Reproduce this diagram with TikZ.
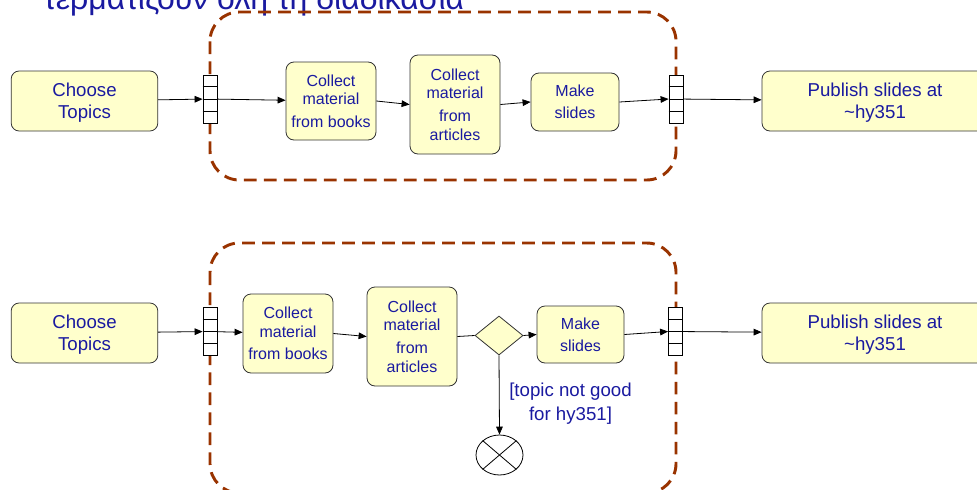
\documentclass[tikz,border=0pt]{standalone}
\usepackage{fontspec}
\setmainfont{Liberation Sans}
\usepackage{xcolor}
\usepackage{tikz}
\usetikzlibrary{arrows.meta,positioning,shapes.geometric,calc}
\definecolor{umlblue}{RGB}{26,26,160}
\definecolor{umlfill}{RGB}{255,255,204}
\definecolor{regionred}{RGB}{153,51,0}
\tikzset{
  act/.style={draw=black!80,fill=umlfill,rounded corners=6pt,align=center,text=umlblue,inner sep=0pt,line width=0.6pt,text depth=0pt},
  big/.style={font=\fontsize{14}{16.5}\selectfont},
  small/.style={font=\fontsize{12}{14}\selectfont},
  pins/.style={draw,fill=white,minimum width=10.5pt,minimum height=36pt,inner sep=0pt,line width=0.6pt},
  arr/.style={-{Triangle[length=6pt,width=5pt]},line width=0.6pt},
  region/.style={draw=regionred,line width=2.2pt,dash pattern=on 9.5pt off 5.5pt,rounded corners=22pt},
}

\begin{document}
\begin{tikzpicture}[x=0.75pt,y=-0.75pt]
\useasboundingbox (0,0) rectangle (977,489);
\clip (0,0) rectangle (977,489);
\node[anchor=base west,inner sep=0pt,text=umlblue,font=\fontsize{24}{28}\selectfont] (title) at (43,9.5) {τερματίζουν όλη τη διαδικασία};
% interruptible regions
\draw[region] (210,12) rectangle (676,180);
\draw[region] (210,243) rectangle (676,493);
% first activity
\node[act,big,minimum width=110pt,minimum height=45pt] (choose1) at (84.5,101) {Choose\\Topics};
\node[pins] (pinA) at (210,99) {};
\node[act,small,minimum width=67.5pt,minimum height=58.5pt] (books1) at (331,101) {Collect\\material\\[3pt]from books};
\node[act,small,minimum width=67.5pt,minimum height=74.25pt] (articles1) at (455,104.5) {Collect\\material\\[3pt]from\\articles};
\node[act,font=\fontsize{12}{16.5}\selectfont,minimum width=66pt,minimum height=43.5pt] (make1) at (575,102) {Make\\slides};
\node[pins] (pinB) at (676,99) {};
\node[act,big,minimum width=169.5pt,minimum height=45pt] (publish1) at (875,101) {Publish slides at\\\textasciitilde hy351};
\draw[arr] (choose1) -- (pinA);
\draw[arr] (pinA) -- (books1);
\draw[arr] (books1.east) -- (articles1.west);
\draw[arr] (articles1.east) -- (make1.west);
\draw[arr] (make1.east) -- (pinB.west);
\draw[arr] (pinB) -- (publish1);
% second activity, with the guard
\node[act,big,minimum width=110pt,minimum height=45pt] (choose2) at (84.5,333) {Choose\\Topics};
\node[pins] (pinC) at (210,331.5) {};
\node[act,small,minimum width=67.5pt,minimum height=59.25pt] (books2) at (288,333.5) {Collect\\material\\[3pt]from books};
\node[act,small,minimum width=67.5pt,minimum height=74.25pt] (articles2) at (412,336.5) {Collect\\material\\[3pt]from\\articles};
\node[diamond,draw=black!80,fill=umlfill,inner sep=0pt,minimum width=36pt,minimum height=29.25pt,line width=0.6pt] (dec) at (499,335.5) {};
\node[act,font=\fontsize{12}{16.5}\selectfont,minimum width=65.25pt,minimum height=42.75pt] (make2) at (580.5,334.5) {Make\\slides};
\node[pins] (pinD) at (675.5,331.5) {};
\node[act,big,minimum width=169.5pt,minimum height=45pt] (publish2) at (875,333) {Publish slides at\\\textasciitilde hy351};
\node[ellipse,draw,fill=white,inner sep=0pt,minimum width=35.25pt,minimum height=30pt,line width=0.6pt] (final) at (499.5,455) {};
\node[align=center,text=umlblue,inner sep=0pt,font=\fontsize{14}{18}\selectfont] (guard) at (570.5,404) {[topic not good\\for hy351]};
\draw[arr] (choose2) -- (pinC);
\draw[arr] (pinC) -- (books2);
\draw[arr] (books2.east) -- (articles2.west);
\draw[line width=0.6pt] (articles2.east) -- (dec.west);
\draw[arr] (dec.east) -- (make2.west);
\draw[arr] (make2.east) -- (pinD.west);
\draw[arr] (pinD) -- (publish2);
\draw[arr] (dec.south) -- (final.north);
\draw[line width=0.6pt] (final.north west) -- (final.south east) (final.north east) -- (final.south west);
% pin cells
\foreach \n in {pinA,pinB,pinC,pinD}
  \foreach \f in {0.25,0.5,0.75}
    \draw[line width=0.6pt] ($(\n.north west)!\f!(\n.south west)$) -- ($(\n.north east)!\f!(\n.south east)$);
\end{tikzpicture}
\end{document}
